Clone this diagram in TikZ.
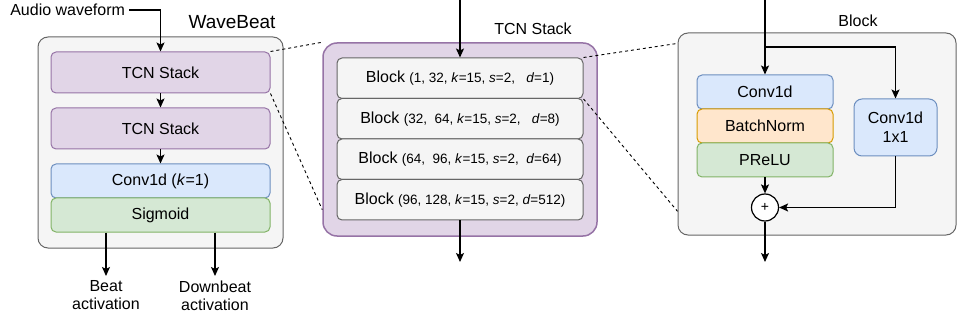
\documentclass[tikz,border=0pt]{standalone}
\usepackage{fontspec}
\setmainfont{Liberation Sans}
\usetikzlibrary{arrows.meta}

\definecolor{tcnfill}{HTML}{E1D5E7}
\definecolor{tcnline}{HTML}{9673A6}
\definecolor{convfill}{HTML}{DAE8FC}
\definecolor{convline}{HTML}{6C8EBF}
\definecolor{actfill}{HTML}{D5E8D4}
\definecolor{actline}{HTML}{82B366}
\definecolor{normfill}{HTML}{FFE6CC}
\definecolor{normline}{HTML}{D79B00}
\definecolor{greyfill}{HTML}{F5F5F5}
\definecolor{greyline}{HTML}{666666}

\newcommand{\blkargs}[1]{{\fontsize{13.5}{16}\selectfont #1}}

\tikzset{
  box/.style={draw, line width=1pt, rounded corners=5pt, inner sep=0pt, font=\fontsize{16}{19}\selectfont},
  tcn/.style={box, fill=tcnfill, draw=tcnline},
  conv/.style={box, fill=convfill, draw=convline},
  act/.style={box, fill=actfill, draw=actline},
  norm/.style={box, fill=normfill, draw=normline},
  grey/.style={box, fill=greyfill, draw=greyline},
  lbl/.style={font=\fontsize{16}{18}\selectfont},
  arr/.style={-{Stealth[length=9pt,width=8pt,inset=2pt]}},
  zoomline/.style={dashed, line width=0.9pt, dash pattern=on 3pt off 3pt}
}

\begin{document}
\begin{tikzpicture}[x=1pt,y=-1pt,line width=1.3pt]
\useasboundingbox (0,0) rectangle (957,320);

% WaveBeat
\node[grey, rounded corners=10pt, minimum width=245pt, minimum height=211pt] (wavebeat) at (160.5,142.5) {};
\node[lbl, font=\fontsize{19}{22}\selectfont] (wbtitle) at (232,22) {WaveBeat};
\node[tcn, minimum width=219pt, minimum height=41pt] (stackA) at (160.5,72.5) {TCN Stack};
\node[tcn, minimum width=219pt, minimum height=41pt] (stackB) at (160.5,128.5) {TCN Stack};
\node[conv, minimum width=219pt, minimum height=34pt] (convk) at (160.5,181) {Conv1d (\textit{k}=1)};
\node[act, minimum width=219pt, minimum height=34pt] (sigm) at (160.5,215) {Sigmoid};
\node[lbl, anchor=east] (audio) at (129,10) {Audio waveform};
\node[lbl, align=center, anchor=north, inner sep=4pt] (beat) at (106,276) {Beat\\activation};
\node[lbl, align=center, anchor=north, inner sep=4pt] (dbeat) at (215,276) {Downbeat\\activation};
\draw[arr] (audio.east) -| (stackA.north);
\draw[arr] (stackA) -- (stackB);
\draw[arr] (stackB) -- (convk);
\draw[arr] (beat.north |- sigm.south) -- (beat.north);
\draw[arr] (dbeat.north |- sigm.south) -- (dbeat.north);

% TCN stack
\node[tcn, line width=1.5pt, rounded corners=14pt, minimum width=274pt, minimum height=193pt] (stack) at (460,139.5) {};
\node[lbl] (stacktitle) at (533,29) {TCN Stack};
\node[grey, minimum width=246pt, minimum height=40.5pt] (blkA) at (460,78.25) {Block \blkargs{(1, 32, \textit{k}=15, \textit{s}=2,\ \ \ \textit{d}=1)}};
\node[grey, minimum width=246pt, minimum height=40.5pt] (blkB) at (460,118.75) {Block \blkargs{(32,\ \ 64, \textit{k}=15, \textit{s}=2,\ \ \ \textit{d}=8)}};
\node[grey, minimum width=246pt, minimum height=40.5pt] (blkC) at (460,159.25) {Block \blkargs{(64,\ \ 96, \textit{k}=15, \textit{s}=2,\ \ \textit{d}=64)}};
\node[grey, minimum width=246pt, minimum height=40.5pt] (blkD) at (460,199.75) {Block \blkargs{(96, 128, \textit{k}=15, \textit{s}=2, \textit{d}=512)}};
\coordinate (midtop) at (460,0);
\coordinate (midbot) at (460,262);
\draw[arr] (midtop) -- (blkA.north);
\draw[arr] (blkD.south) -- (midbot);

% Block
\node[grey, rounded corners=10pt, minimum width=278pt, minimum height=202pt] (blockbox) at (817,134) {};
\node[lbl] (blocktitle) at (858,21) {Block};
\node[conv, minimum width=136pt, minimum height=34pt] (convA) at (765,92) {Conv1d};
\node[norm, minimum width=136pt, minimum height=34pt] (bnorm) at (765,126) {BatchNorm};
\node[act, minimum width=136pt, minimum height=34pt] (prelu) at (765,160) {PReLU};
\node[conv, rounded corners=8pt, minimum width=83pt, minimum height=57pt, align=center] (convB) at (895.5,127.5) {Conv1d\\1x1};
\node[circle, draw, fill=white, line width=1.2pt, minimum size=27pt, inner sep=0pt, font=\fontsize{14}{16}\selectfont] (sum) at (765,207.5) {+};
\coordinate (rtop) at (765,0);
\coordinate (split) at (765,47);
\coordinate (rbot) at (765,262);
\draw[arr] (rtop) -- (convA.north);
\draw[arr] (split) -| (convB.north);
\draw[arr] (prelu) -- (sum);
\draw[arr] (convB.south) |- (sum.east);
\draw[arr] (sum) -- (rbot);

% zoom lines
\draw[zoomline] (stackA.north east) -- (stack.north west);
\draw[zoomline] (stackA.south east) -- (stack.207);
\draw[zoomline] (blkA.north east) -- (blockbox.147);
\draw[zoomline] (blkA.south east) -- (blockbox.209);
\end{tikzpicture}
\end{document}
